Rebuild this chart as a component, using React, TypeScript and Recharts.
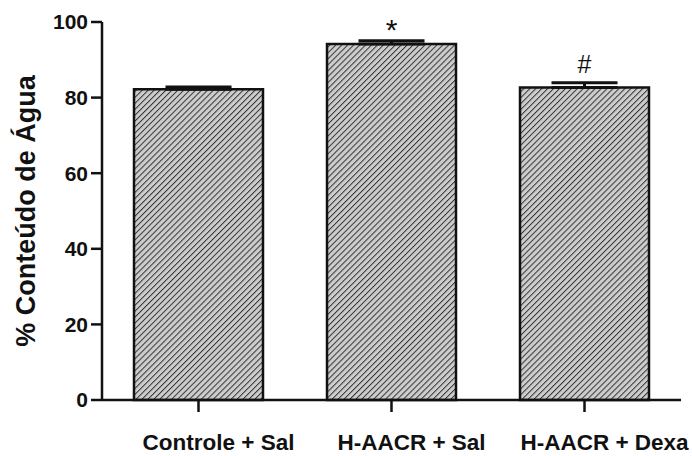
import React from "react";
import { BarChart, Bar, XAxis, YAxis, ErrorBar, LabelList } from "recharts";

// Groups, mean water content (%) and upper error
const groups = ["Controle + Sal", "H-AACR + Sal", "H-AACR + Dexa"];
const means = [82.2, 94.2, 82.7];
const upperErrors = [0.6, 0.85, 1.2];
const marks = ["", "*", "#"];
const yTicks = [0, 20, 40, 60, 80, 100];

const data = groups.map((g, i) => ({
  group: g,
  value: means[i],
  err: [0, upperErrors[i]],
  mark: marks[i],
}));

const FONT = "'Liberation Sans', Arial, Helvetica, sans-serif";

// significance marks sit just above each error cap
const MarkLabel = (props: any) => {
  const { x, y, width, value } = props;
  if (!value) return null;
  const star = value === "*";
  return (
    <text
      x={x + width / 2}
      y={y - (star ? 4 : 14)}
      textAnchor="middle"
      fontFamily={FONT}
      fontSize={star ? 30 : 25}
      fill="#111"
    >
      {value}
    </text>
  );
};

// category names sit slightly right of their tick marks
const GroupTick = (props: any) => {
  const { x, y, payload } = props;
  return (
    <text
      x={x + 20}
      y={y + 36}
      textAnchor="middle"
      fontFamily={FONT}
      fontWeight="bold"
      fontSize={22.5}
      fill="#111"
    >
      {payload.value}
    </text>
  );
};

const YTitle = (props: any) => {
  const { viewBox } = props;
  const cx = 26;
  const cy = viewBox.y + viewBox.height / 2;
  return (
    <text
      x={cx}
      y={cy}
      transform={`rotate(-90, ${cx}, ${cy})`}
      textAnchor="middle"
      dominantBaseline="central"
      fontFamily={FONT}
      fontWeight="bold"
      fontSize={27}
      fill="#111"
    >
      % Conteúdo de Água
    </text>
  );
};

export default function App() {
  return (
    <div style={{ position: "absolute", left: 0, top: 0, background: "#fff" }}>
      <BarChart
        width={692}
        height={456}
        data={data}
        margin={{ top: 22, right: 11, left: 0, bottom: 0 }}
      >
        <defs>
          <pattern
            id="hatch"
            patternUnits="userSpaceOnUse"
            width="4.2"
            height="4.2"
            patternTransform="rotate(45)"
          >
            <rect width="4.2" height="4.2" fill="#cdcdcd" />
            <line x1="0" y1="0" x2="0" y2="4.2" stroke="#333" strokeWidth="2" />
          </pattern>
        </defs>
        <XAxis
          dataKey="group"
          height={56}
          tickSize={12}
          axisLine={{ stroke: "#111", strokeWidth: 2.5 }}
          tickLine={{ stroke: "#111", strokeWidth: 2.5 }}
          tick={<GroupTick />}
          interval={0}
        />
        <YAxis
          width={102}
          domain={[0, 100]}
          ticks={yTicks}
          tickSize={11}
          tickMargin={3}
          axisLine={{ stroke: "#111", strokeWidth: 2.5 }}
          tickLine={{ stroke: "#111", strokeWidth: 2.5 }}
          tick={{ fill: "#111", fontFamily: FONT, fontWeight: "bold", fontSize: 21 }}
          label={<YTitle />}
        />
        <Bar
          dataKey="value"
          barSize={129}
          fill="url(#hatch)"
          stroke="#111"
          strokeWidth={2.5}
          isAnimationActive={false}
        >
          <ErrorBar
            dataKey="err"
            width={33}
            stroke="#111"
            strokeWidth={3}
            direction="y"
          />
          <LabelList dataKey="mark" content={<MarkLabel />} />
        </Bar>
      </BarChart>
    </div>
  );
}
